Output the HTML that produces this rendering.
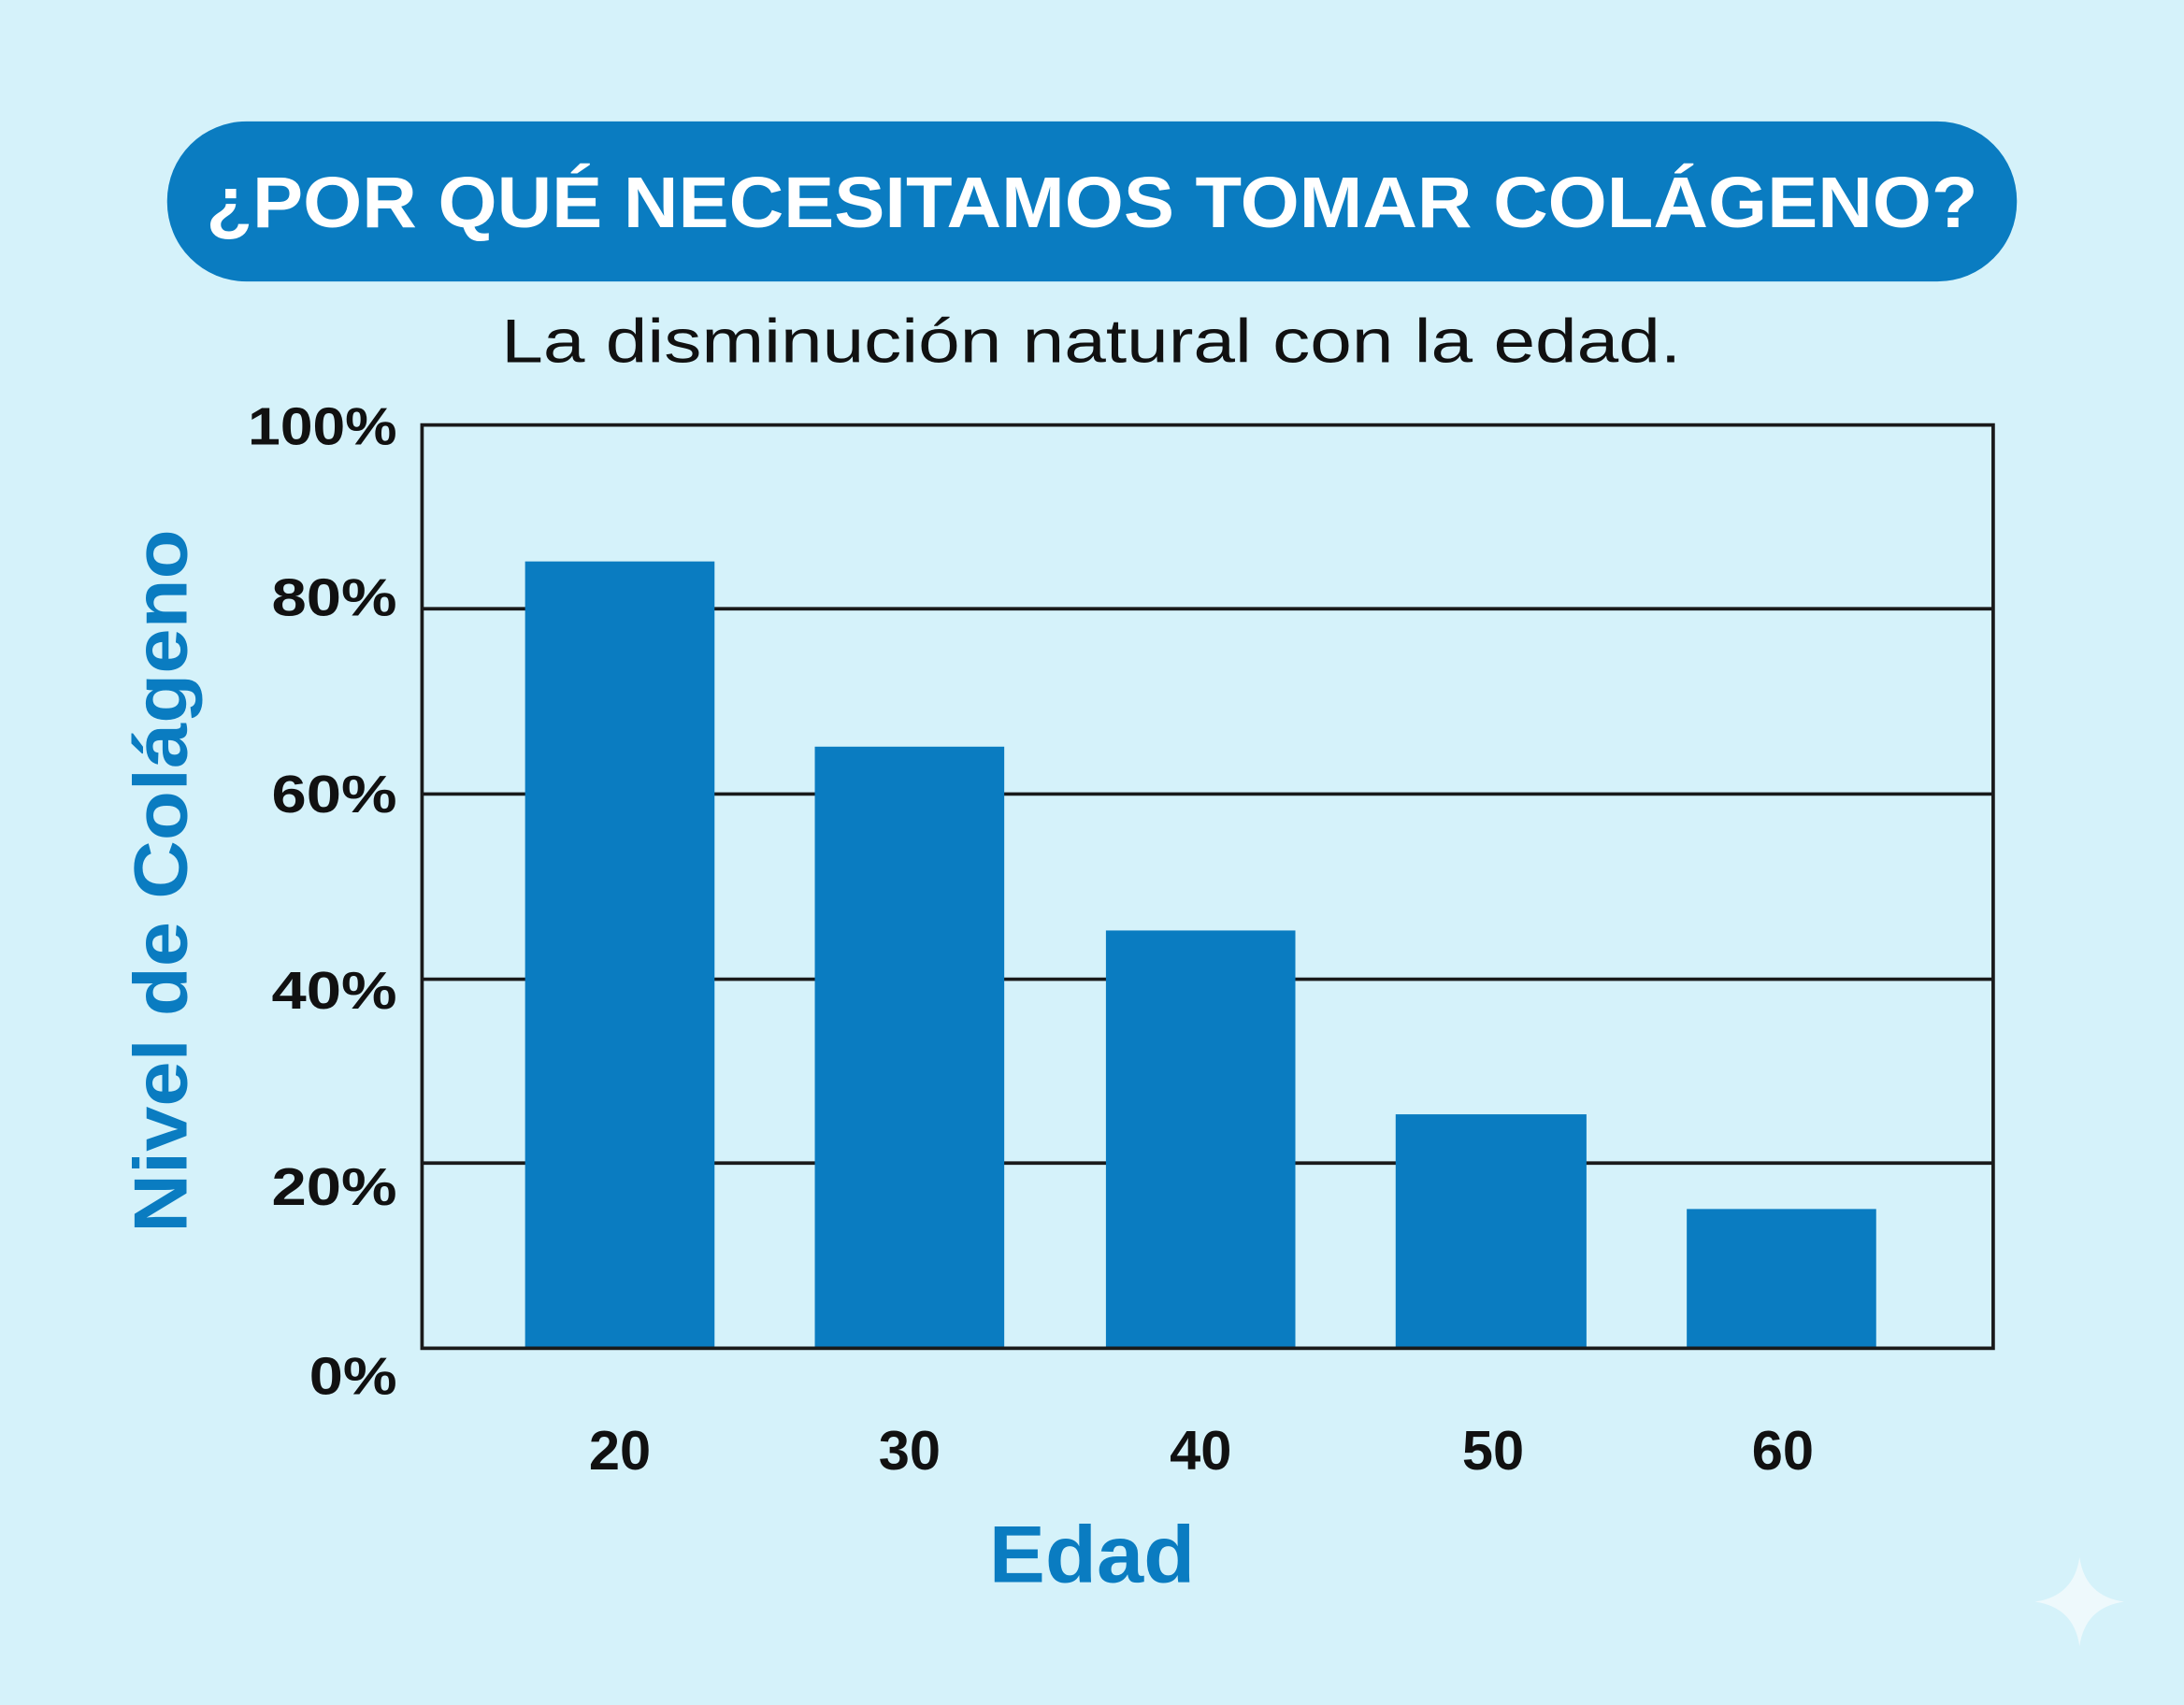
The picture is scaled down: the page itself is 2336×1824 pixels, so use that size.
<!DOCTYPE html>
<html><head><meta charset="utf-8"><style>
html,body{margin:0;padding:0;background:#d5f2fa;}
svg{display:block;}
text{font-family:"Liberation Sans","DejaVu Sans",sans-serif;}
</style></head><body>
<svg width="2336" height="1824" viewBox="0 0 1568 1224" xmlns="http://www.w3.org/2000/svg">
<rect width="1568" height="1224" fill="#d5f2fa"/>
<rect x="120" y="87" width="1328" height="115" rx="57" fill="#0a7cc1"/>
<text x="148" y="163" font-size="52" font-weight="bold" fill="#fff" textLength="1272" lengthAdjust="spacingAndGlyphs">¿POR QUÉ NECESITAMOS TOMAR COLÁGENO?</text>
<text x="360" y="260" font-size="44" fill="#111" textLength="847" lengthAdjust="spacingAndGlyphs">La disminución natural con la edad.</text>
<g stroke="#1a1a1a" stroke-width="2.5">
<line x1="303" y1="437" x2="1431" y2="437"/>
<line x1="303" y1="570" x2="1431" y2="570"/>
<line x1="303" y1="703" x2="1431" y2="703"/>
<line x1="303" y1="835" x2="1431" y2="835"/>
</g>
<g fill="#0a7cc1">
<rect x="377" y="403" width="136" height="565"/>
<rect x="585" y="536" width="136" height="432"/>
<rect x="794" y="668" width="136" height="300"/>
<rect x="1002" y="800" width="137" height="168"/>
<rect x="1211" y="868" width="136" height="100"/>
</g>
<rect x="303" y="305" width="1128" height="663" fill="none" stroke="#1a1a1a" stroke-width="2.5"/>
<g font-size="38" font-weight="bold" fill="#111">
<text x="178" y="319" textLength="107" lengthAdjust="spacingAndGlyphs">100%</text>
<text x="195" y="442" textLength="90" lengthAdjust="spacingAndGlyphs">80%</text>
<text x="195" y="583" textLength="90" lengthAdjust="spacingAndGlyphs">60%</text>
<text x="195" y="724" textLength="90" lengthAdjust="spacingAndGlyphs">40%</text>
<text x="195" y="865" textLength="90" lengthAdjust="spacingAndGlyphs">20%</text>
<text x="222" y="1001" textLength="63" lengthAdjust="spacingAndGlyphs">0%</text>
</g>
<g font-size="40" font-weight="bold" fill="#111" text-anchor="middle">
<text x="445" y="1055">20</text>
<text x="653" y="1055">30</text>
<text x="862" y="1055">40</text>
<text x="1072" y="1055">50</text>
<text x="1280" y="1055">60</text>
</g>
<text x="710" y="1136" font-size="58" font-weight="bold" fill="#0a7cc1" textLength="148" lengthAdjust="spacingAndGlyphs">Edad</text>
<text transform="translate(134,885) rotate(-90)" font-size="54" font-weight="bold" fill="#0a7cc1" textLength="505" lengthAdjust="spacingAndGlyphs">Nivel de Colágeno</text>
<path d="M1493 1118 Q1497 1146 1525 1150 Q1497 1154 1493 1182 Q1489 1154 1461 1150 Q1489 1146 1493 1118Z" fill="#eef9fc"/>
</svg>
</body></html>
